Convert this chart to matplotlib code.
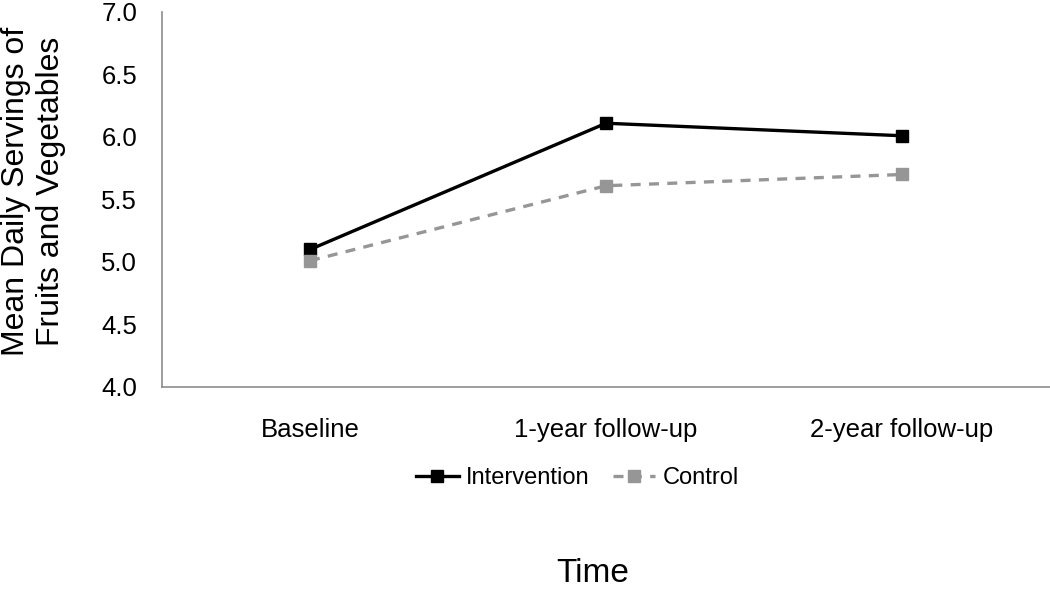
import matplotlib
matplotlib.use("Agg")
import matplotlib.pyplot as plt

# data
timepoints = ["Baseline", "1-year follow-up", "2-year follow-up"]
intervention = [5.1, 6.11, 6.01]
control = [5.01, 5.61, 5.7]
yticks = [4.0, 4.5, 5.0, 5.5, 6.0, 6.5, 7.0]

plt.rcParams['font.family'] = ['Liberation Sans', 'DejaVu Sans']

fig = plt.figure(figsize=(10.5, 5.91), dpi=100)
ax = fig.add_axes([0.1543, 0.3452, 0.8457, 0.6345])

x = range(len(timepoints))
ax.plot(x, intervention, color="black", linewidth=2.4, marker="s",
        markersize=9, label="Intervention")
ax.plot(x, control, color="#969696", linewidth=2.4, linestyle=(0, (3, 2.5)),
        marker="s", markersize=9, label="Control")

ax.set_xlim(-0.5, 2.5)
ax.set_ylim(4.0, 7.0)
ax.set_yticks(yticks)
ax.set_yticklabels([f"{v:.1f}" for v in yticks], fontsize=18.5)
ax.set_xticks(list(x))
ax.set_xticklabels(timepoints, fontsize=18.5)
ax.tick_params(axis="y", length=0, pad=18)
ax.tick_params(axis="x", length=0, pad=22)

for s in ["top", "right"]:
    ax.spines[s].set_visible(False)
for s in ["left", "bottom"]:
    ax.spines[s].set_color("#8c8c8c")
    ax.spines[s].set_linewidth(1.2)

fig.text(0.032, 0.677, "Mean Daily Servings of\nFruits and Vegetables",
         rotation=90, fontsize=23, ha="center", va="center", linespacing=1.25)
fig.text(0.564, 0.004, "Time", fontsize=24, ha="center", va="bottom")

fig.legend(loc="center", bbox_to_anchor=(0.55, 0.191), ncol=2, frameon=False,
           fontsize=17, handlelength=1.8, handletextpad=0.3, columnspacing=1.0)

fig.savefig("out.png", dpi=100)
